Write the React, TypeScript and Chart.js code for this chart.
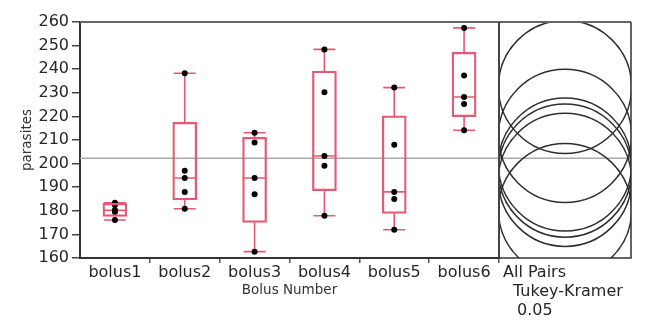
import { useEffect, useRef } from 'react';
import { Chart, registerables } from 'chart.js';

Chart.register(...registerables);

const categories = ['bolus1', 'bolus2', 'bolus3', 'bolus4', 'bolus5', 'bolus6'];

const obsBolus1 = [176.1, 179.5, 180.3, 182.5, 183.4];
const obsBolus2 = [180.9, 188, 193.9, 197, 238.3];
const obsBolus3 = [162.7, 187, 193.9, 208.9, 213.1];
const obsBolus4 = [177.9, 199.1, 203.2, 230.2, 248.4];
const obsBolus5 = [172, 185, 188, 208, 232.2];
const obsBolus6 = [214.1, 225.3, 228.2, 237.3, 257.5];
const observations = [obsBolus1, obsBolus2, obsBolus3, obsBolus4, obsBolus5, obsBolus6];

const whiskerLow = [176.1, 180.9, 162.7, 177.9, 172, 214.1];
const quartile1 = [177.6, 184.6, 175.1, 188.5, 178.9, 219.9];
const medians = [180.2, 193.9, 193.9, 203.2, 188, 228.2];
const quartile3 = [183.2, 217.5, 211.1, 239.2, 220.2, 247.2];
const whiskerHigh = [183.4, 238.3, 213.1, 248.4, 232.2, 257.5];

const grandMean = 202.3;
const circleRadius = 28.2;
const yMin = 160;
const yMax = 260;
const yStep = 10;
const yTitle = 'parasites';
const xTitle = 'Bolus Number';
const comparisonLabel = ['All Pairs', 'Tukey-Kramer', '0.05'];

const groupMeans = observations.map((a) => a.reduce((s, v) => s + v, 0) / a.length);

const BOX_COLOR = '#e45a74';
const FONT = 'DejaVu Sans';
const PANEL_W = 132;

const boxPlugin = {
  id: 'boxWhiskers',
  beforeDatasetsDraw(chart: any) {
    const { ctx, chartArea, scales } = chart;
    const x = scales.x;
    const y = scales.y;
    ctx.save();
    const gy = y.getPixelForValue(grandMean);
    ctx.strokeStyle = '#a9a9a9';
    ctx.lineWidth = 1.5;
    ctx.beginPath();
    ctx.moveTo(chartArea.left, gy);
    ctx.lineTo(chartArea.right + PANEL_W, gy);
    ctx.stroke();

    ctx.strokeStyle = BOX_COLOR;
    ctx.lineWidth = 1.6;
    const half = 12;
    const capHalf = 11;
    categories.forEach((_, i) => {
      const cx = x.getPixelForValue(i);
      const pLow = y.getPixelForValue(whiskerLow[i]);
      const pQ1 = y.getPixelForValue(quartile1[i]);
      const pMed = y.getPixelForValue(medians[i]);
      const pQ3 = y.getPixelForValue(quartile3[i]);
      const pHigh = y.getPixelForValue(whiskerHigh[i]);
      ctx.beginPath();
      ctx.moveTo(cx, pQ3);
      ctx.lineTo(cx, pHigh);
      ctx.moveTo(cx, pQ1);
      ctx.lineTo(cx, pLow);
      ctx.moveTo(cx - capHalf, pHigh);
      ctx.lineTo(cx + capHalf, pHigh);
      ctx.moveTo(cx - capHalf, pLow);
      ctx.lineTo(cx + capHalf, pLow);
      ctx.moveTo(cx - half, pMed);
      ctx.lineTo(cx + half, pMed);
      ctx.stroke();
    });
    ctx.restore();
  },
  afterDraw(chart: any) {
    const { ctx, chartArea, scales } = chart;
    const y = scales.y;
    const left = chartArea.right;
    const right = chartArea.right + PANEL_W;
    const top = chartArea.top;
    const bottom = chartArea.bottom;
    const cx = (left + right) / 2;
    ctx.save();
    ctx.beginPath();
    ctx.rect(left, top, PANEL_W, bottom - top);
    ctx.clip();
    ctx.strokeStyle = '#2e2e2e';
    ctx.lineWidth = 1.5;
    groupMeans.forEach((m) => {
      const cy = y.getPixelForValue(m);
      const r = y.getPixelForValue(m - circleRadius) - cy;
      ctx.beginPath();
      ctx.arc(cx, cy, r, 0, Math.PI * 2);
      ctx.stroke();
    });
    ctx.restore();

    ctx.save();
    ctx.strokeStyle = '#666';
    ctx.lineWidth = 2;
    ctx.beginPath();
    ctx.moveTo(chartArea.left, top);
    ctx.lineTo(right, top);
    ctx.stroke();
    ctx.strokeStyle = '#444';
    ctx.beginPath();
    ctx.moveTo(left, top);
    ctx.lineTo(left, bottom);
    ctx.stroke();
    ctx.strokeStyle = '#333';
    ctx.lineWidth = 1.5;
    ctx.beginPath();
    ctx.moveTo(right, top);
    ctx.lineTo(right, bottom);
    ctx.lineTo(left, bottom);
    ctx.stroke();

    ctx.fillStyle = '#262626';
    ctx.font = `16px "${FONT}"`;
    ctx.textAlign = 'left';
    ctx.textBaseline = 'alphabetic';
    const offs = [4, 14, 18];
    comparisonLabel.forEach((t, i) => {
      ctx.fillText(t, left + offs[i], bottom + 19 + i * 19);
    });
    ctx.restore();
  },
};

export default function App() {
  const ref = useRef<HTMLCanvasElement | null>(null);
  useEffect(() => {
    if (!ref.current) return;
    const chart = new Chart(ref.current, {
      type: 'bar',
      data: {
        labels: categories,
        datasets: [
          {
            type: 'bar',
            data: categories.map((_, i) => [quartile1[i], quartile3[i]]) as any,
            backgroundColor: 'rgba(0,0,0,0)',
            borderColor: BOX_COLOR,
            borderWidth: 1.6,
            borderSkipped: false,
            barThickness: 24,
          },
          {
            type: 'line',
            data: observations.flatMap((arr, i) => arr.map((v) => ({ x: categories[i], y: v }))) as any,
            showLine: false,
            pointRadius: 3,
            pointBorderWidth: 0,
            pointBackgroundColor: '#000',
            pointBorderColor: '#000',
          } as any,
        ],
      },
      options: {
        animation: false,
        responsive: true,
        maintainAspectRatio: false,
        layout: { padding: { top: 22, right: 148, left: 0, bottom: 0 } },
        plugins: { legend: { display: false }, tooltip: { enabled: false } },
        scales: {
          x: {
            offset: true,
            afterFit: (s: any) => {
              s.height = 64;
            },
            grid: {
              offset: true,
              drawOnChartArea: false,
              drawTicks: true,
              tickLength: 5,
              lineWidth: 1.5,
              color: (c: any) => (c.index === 0 || c.index === categories.length ? 'rgba(0,0,0,0)' : '#555'),
            },
            border: { color: '#333', width: 2 },
            ticks: { color: '#262626', font: { family: FONT, size: 16 }, padding: 0 },
            title: {
              display: true,
              text: xTitle,
              color: '#333',
              font: { family: FONT, size: 13.5 },
              padding: { top: 0, bottom: 23 },
            },
          },
          y: {
            min: yMin,
            max: yMax,
            afterFit: (s: any) => {
              s.width = 80;
            },
            grid: { drawOnChartArea: false, drawTicks: true, tickLength: 8, lineWidth: 1.5, color: '#444' },
            border: { color: '#333', width: 2 },
            ticks: { stepSize: yStep, color: '#262626', font: { family: FONT, size: 16 }, padding: 3 },
            title: {
              display: true,
              text: yTitle,
              color: '#333',
              font: { family: FONT, size: 13.5 },
              padding: { top: 19.5, bottom: 0 },
            },
          },
        },
      },
      plugins: [boxPlugin],
    });
    return () => chart.destroy();
  }, []);
  return (
    <div style={{ position: 'absolute', left: 0, top: 0, width: 647, height: 322, background: '#fff' }}>
      <canvas ref={ref} />
    </div>
  );
}
